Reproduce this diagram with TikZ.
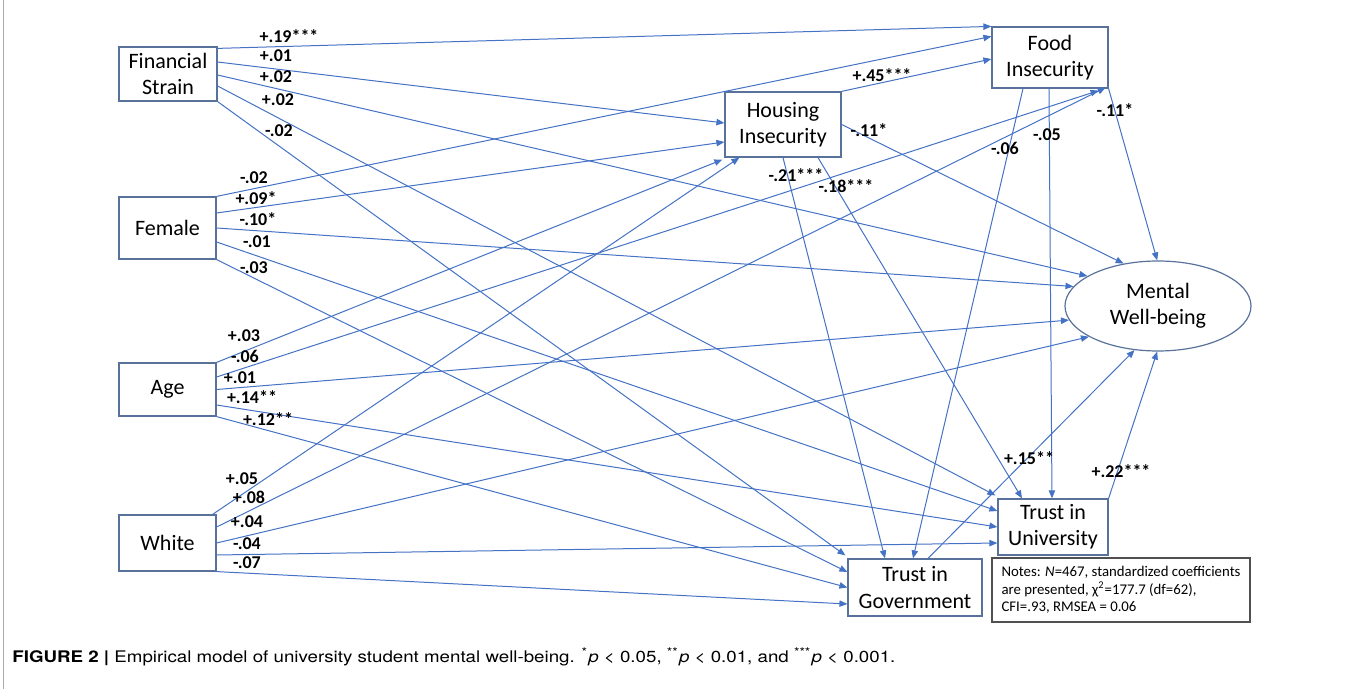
\documentclass[tikz,border=0pt]{standalone}
\usepackage{graphicx}
\usepackage{fontspec}
\setmainfont{Carlito}
\newfontfamily\capfont{TeX Gyre Heros}
\usetikzlibrary{arrows.meta,calc,shapes.geometric}
\definecolor{lineblue}{RGB}{68,114,196}
\definecolor{boxline}{RGB}{88,114,155}
\definecolor{notesline}{RGB}{80,80,80}
\definecolor{framegray}{RGB}{170,170,170}
\begin{document}
\begin{tikzpicture}[x=0.5pt,y=-0.5pt,
  var/.style={draw=boxline, line width=0.6pt, fill=white, align=center, inner sep=0pt, font=\fontsize{11}{13.2}\selectfont},
  conn/.style={draw=lineblue, line width=0.5pt, -{Triangle[length=4pt,width=3.2pt]}},
  coef/.style={font=\bfseries\fontsize{9}{10}\selectfont, inner sep=0pt, text=black},
]
\useasboundingbox (0,0) rectangle (1357,689);
\draw[framegray, line width=0.5pt] (3,0) -- (3,689);

% variables
\node[var, minimum width=49pt, minimum height=27pt] (fs) at (168,74) {Financial\\Strain};
\node[var, minimum width=48.5pt, minimum height=31pt] (fem) at (167.5,228) {Female};
\node[var, minimum width=48.5pt, minimum height=26.5pt] (age) at (167.5,389.5) {Age};
\node[var, minimum width=48.5pt, minimum height=28pt] (white) at (167.5,543) {White};
\node[var, minimum width=58pt, minimum height=32.5pt] (housing) at (783,124.5) {Housing\\Insecurity};
\node[var, minimum width=58pt, minimum height=30.5pt] (food) at (1050,57.5) {Food\\Insecurity};
\node[var, ellipse, minimum width=93pt, minimum height=45pt] (mwb) at (1158,306) {Mental\\Well-being};
\node[var, minimum width=55pt, minimum height=28pt] (tu) at (1053,527) {Trust in\\University};
\node[var, minimum width=67pt, minimum height=28.5pt] (tg) at (915,587.5) {Trust in\\Government};
\node[draw=notesline, line width=0.6pt, minimum width=129pt, minimum height=32pt, inner sep=0pt, align=left,
  font=\fontsize{7.4}{8.8}\selectfont] (notes) at (1121,590)
  {Notes: \textit{N}=467, standardized coefficients\\are presented, χ\textsuperscript{2}=177.7 (df=62),\\CFI=.93, RMSEA = 0.06};

% Financial Strain
\draw[conn] ($(fs.north east)+(0,2)$) -- (food.north west);
\draw[conn] ($(fs.east)+(0,-12)$) -- ($(housing.west)+(0,-1.5)$);
\draw[conn] ($(fs.east)+(0,1)$) -- (mwb.157);
\draw[conn] ($(fs.east)+(0,12)$) -- ($(tu.north west)+(-2,-3)$);
\draw[conn] (fs.south east) -- ($(tg.north west)+(-2,-3)$);
% Female
\draw[conn] (fem.north east) -- ($(food.north west)+(0,10)$);
\draw[conn] ($(fem.east)+(0,-15)$) -- ($(housing.west)+(0,17.5)$);
\draw[conn] (fem.east) -- (mwb.167);
\draw[conn] ($(fem.east)+(0,14)$) -- ($(tu.west)+(0,-16)$);
\draw[conn] (fem.south east) -- ($(tg.west)+(0,-15.5)$);
% Age
\draw[conn] (age.north east) -- ($(housing.south west)+(-2,2)$);
\draw[conn] ($(age.east)+(0,-12.5)$) -- ($(food.south east)+(-10,2)$);
\draw[conn] (age.east) -- (mwb.189);
\draw[conn] ($(age.east)+(0,15.5)$) -- (tu.west);
\draw[conn] (age.south east) -- (tg.west);
% White
\draw[conn] ($(white.north east)+(-4,0)$) -- ($(housing.south west)+(15,0)$);
\draw[conn] ($(white.east)+(0,-16)$) -- ($(food.south east)+(-3,-1)$);
\draw[conn] (white.east) -- (mwb.204);
\draw[conn] ($(white.east)+(0,12)$) -- ($(tu.west)+(0,16)$);
\draw[conn] (white.south east) -- ($(tg.west)+(0,16.5)$);
% Housing
\draw[conn] (housing.north east) -- ($(food.west)+(0,1.5)$);
\draw[conn] (housing.east) -- (mwb.129);
\draw[conn] (housing.south) -- ($(tg.north)+(-30,0)$);
\draw[conn] ($(housing.south)+(35,0)$) -- ($(tu.north)+(-31,0)$);
% Food
\draw[conn] ($(food.south)+(-27,0)$) -- ($(tg.north)+(-2,0)$);
\draw[conn] ($(food.south)+(-1,0)$) -- ($(tu.north)+(-1,0)$);
\draw[conn] (food.south east) -- (mwb.91);
% Trust
\draw[conn] ($(tg.north)+(13,0)$) -- (mwb.242);
\draw[conn] (tu.north east) -- (mwb.269);

% coefficients
\node[coef] (c1) at (289,36) {+.19***};
\node[coef] (c2) at (276,56) {+.01};
\node[coef] (c3) at (276,77) {+.02};
\node[coef] (c4) at (278,100) {+.02};
\node[coef] (c5) at (279,131) {-.02};
\node[coef] (c6) at (254,178) {-.02};
\node[coef] (c7) at (256,198) {+.09*};
\node[coef] (c8) at (258,219) {-.10*};
\node[coef] (c9) at (257,242) {-.01};
\node[coef] (c10) at (254,268) {-.03};
\node[coef] (c11) at (244,336) {+.03};
\node[coef] (c12) at (245,356) {-.06};
\node[coef] (c13) at (240,378) {+.01};
\node[coef] (c14) at (252,397) {+.14**};
\node[coef] (c15) at (268,419) {+.12**};
\node[coef] (c16) at (242,479) {+.05};
\node[coef] (c17) at (249,497) {+.08};
\node[coef] (c18) at (247,522) {+.04};
\node[coef] (c19) at (247,544) {-.04};
\node[coef] (c20) at (247,563) {-.07};
\node[coef] (c21) at (882,75) {+.45***};
\node[coef] (c22) at (869,130) {-.11*};
\node[coef] (c23) at (796,175) {-.21***};
\node[coef] (c24) at (846,186) {-.18***};
\node[coef] (c25) at (1005,148) {-.06};
\node[coef] (c26) at (1047,135) {-.05};
\node[coef] (c27) at (1115,110) {-.11*};
\node[coef] (c28) at (1029,458) {+.15**};
\node[coef] (c29) at (1121,471) {+.22***};

% caption
\node[anchor=west, inner sep=0pt, font=\capfont\fontsize{8}{9}\selectfont] (cap) at (12,657)
  {\resizebox{441.5pt}{\height}{{\bfseries FIGURE 2 |} Empirical model of university student mental well-being. \textsuperscript{*}\textit{p} < 0.05, \textsuperscript{**}\textit{p} < 0.01, and \textsuperscript{***}\textit{p} < 0.001.}};
\end{tikzpicture}
\end{document}
